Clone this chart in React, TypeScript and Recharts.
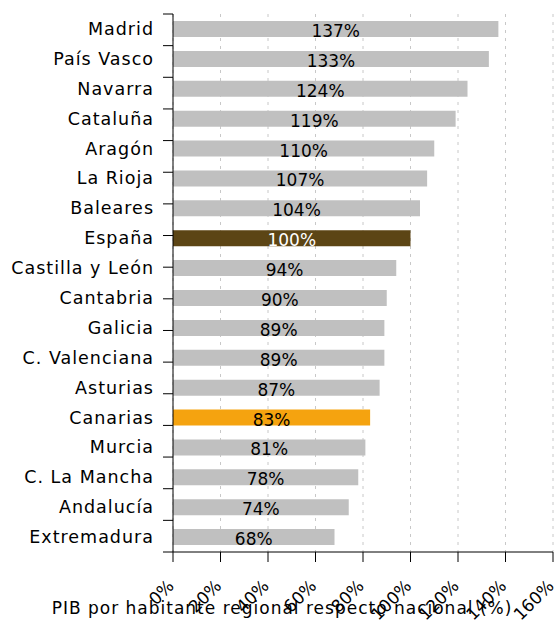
import React from 'react';
import { BarChart, Bar, XAxis, YAxis, CartesianGrid, Cell, LabelList } from 'recharts';

const regions = [
  'Madrid', 'País Vasco', 'Navarra', 'Cataluña', 'Aragón', 'La Rioja', 'Baleares', 'España',
  'Castilla y León', 'Cantabria', 'Galicia', 'C. Valenciana', 'Asturias', 'Canarias',
  'Murcia', 'C. La Mancha', 'Andalucía', 'Extremadura',
];
const pibValues = [137, 133, 124, 119, 110, 107, 104, 100, 94, 90, 89, 89, 87, 83, 81, 78, 74, 68];
const xTicks = [0, 20, 40, 60, 80, 100, 120, 140, 160];
const boundaryTicks = regions.map((_, i) => i);

const data = regions.map((region, i) => ({ region, pib: pibValues[i] }));

const FONT = '"DejaVu Sans", Verdana, sans-serif';
const barColor = (region: string) =>
  region === 'España' ? '#5C4515' : region === 'Canarias' ? '#F5A30F' : '#C0C0C0';

const TOP = 14;
const AXIS_H = 69;
const HEIGHT = 621;

const renderRegionTick = (props: any) => {
  const { x, y, payload } = props;
  return (
    <text key={payload.value} x={x - 9} y={y} dy={6} textAnchor="end" fontSize={17.5} letterSpacing={1} fill="#000" fontFamily={FONT}>
      {payload.value}
    </text>
  );
};

const renderNoTick = (props: any) => <g key={props.index} />;

const renderPercentTick = (props: any) => {
  const { x, y, payload } = props;
  const ax = x + 2;
  const ay = y + 23;
  return (
    <text key={payload.value} x={ax} y={ay} textAnchor="end" fontSize={17} fill="#000" fontFamily={FONT} transform={`rotate(-45, ${ax}, ${ay})`}>
      {payload.value}%
    </text>
  );
};

function ValueLabel(props: any) {
  const { x, y, width, height, value, index } = props;
  const white = regions[index] === 'España';
  return (
    <text x={x + width / 2} y={y + height} textAnchor="middle" fontSize={17} fill={white ? '#fff' : '#000'} fontFamily={FONT}>
      {value}%
    </text>
  );
}

function AxisTitle() {
  return (
    <text x={282} y={614} textAnchor="middle" fontSize={17} letterSpacing={1} fill="#000" fontFamily={FONT}>
      PIB por habitante regional respecto nacional (%)
    </text>
  );
}

export default function App() {
  return (
    <div style={{ position: 'absolute', left: 0, top: 0, width: 556, height: 621, background: '#fff' }}>
      <BarChart
        width={556}
        height={HEIGHT}
        data={data}
        layout="vertical"
        margin={{ top: TOP, right: 3, bottom: 0, left: 0 }}
        barCategoryGap={0}
        style={{ fontFamily: FONT }}
      >
        <CartesianGrid horizontal={false} stroke="#c8c8c8" strokeDasharray="3 5" />
        <XAxis
          type="number"
          domain={[0, 160]}
          ticks={xTicks}
          height={AXIS_H}
          tickSize={10}
          tickMargin={2}
          axisLine={{ stroke: '#000' }}
          tickLine={{ stroke: '#000' }}
          tick={renderPercentTick}
          interval={0}
          label={{ content: () => <AxisTitle /> }}
        />
        <YAxis
          yAxisId="z_cat"
          type="category"
          dataKey="region"
          width={163}
          tickSize={0}
          tickMargin={0}
          tickLine={false}
          axisLine={false}
          tick={renderRegionTick}
          interval={0}
        />
        {/* tick marks on the category boundaries, from a numeric axis next to the plot */}
        <YAxis
          yAxisId="a_edges"
          type="number"
          domain={[0, regions.length]}
          ticks={boundaryTicks}
          reversed
          width={10}
          tickSize={10}
          tickMargin={0}
          tick={renderNoTick}
          axisLine={{ stroke: '#000' }}
          tickLine={{ stroke: '#000' }}
          interval={0}
        />
        <Bar yAxisId="z_cat" dataKey="pib" barSize={16} isAnimationActive={false}>
          {data.map((d) => (
            <Cell key={d.region} fill={barColor(d.region)} />
          ))}
          <LabelList dataKey="pib" content={<ValueLabel />} />
        </Bar>
      </BarChart>
    </div>
  );
}
